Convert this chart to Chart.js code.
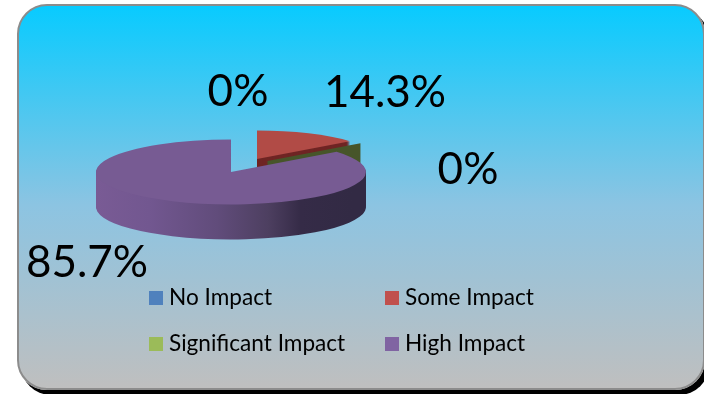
<!DOCTYPE html>
<html>
<head>
<meta charset="utf-8">
<script src="https://cdn.jsdelivr.net/npm/chart.js@4"></script>
<style>
  html, body { margin: 0; padding: 0; background: #fff; overflow: hidden; }
  .panel {
    position: absolute; left: 17px; top: 4px; width: 684px; height: 382px;
    border: 2px solid #8c8c8c; border-radius: 30px;
    background: linear-gradient(#08cbff 0%, #8cc4e2 52%, #bfbfbf 100%);
    box-shadow: 4px 5px 0 #000;
  }
  canvas { position: absolute; left: 0; top: 0; }
</style>
</head>
<body>
<div class="panel"></div>
<canvas id="chart" width="704" height="394"></canvas>
<script>
const categories = ['No Impact', 'Some Impact', 'Significant Impact', 'High Impact']
const shares = [0, 14.3, 0, 85.7]
const valueLabels = ['0%', '14.3%', '0%', '85.7%']
const legendColors = ['#4f81bd', '#c0504d', '#9bbb59', '#8064a2']
const topColors = ['#4f81bd', '#b14b46', '#9bbb59', '#775b93']
const wallColors = ['#2f4d71', '#6f2524', '#47552a', '#352c47']

// positions of the texts on the page
const labelSpots = [[238, 92], [385, 93], [468, 170], [87, 263]]
const legendSpots = [[149, 298], [385, 298], [149, 344], [385, 344]]

const squash = 0.24
const depth = 35
const pieY = 165.5
const explode = 30
const backScale = 0.88

const ctx = document.getElementById('chart').getContext('2d')

const sideGradient = () => {
  const g = ctx.createLinearGradient(95, 0, 365, 0)
  g.addColorStop(0, '#7b5c96')
  g.addColorStop(0.25, '#725790')
  g.addColorStop(0.5, '#614c7b')
  g.addColorStop(0.69, '#4d3f60')
  g.addColorStop(0.81, '#352b47')
  g.addColorStop(1, '#322a44')
  return g
}

// draws one slice flattened and pulled out of the pie, pushed down by dy
const drawSlice = (arc, color, dy, scale) => {
  const mid = (arc.startAngle + arc.endAngle) / 2
  const opts = arc.options
  ctx.save()
  ctx.translate(Math.cos(mid) * explode + arc.x, pieY + dy + Math.sin(mid) * explode * squash)
  ctx.scale(scale, squash * scale)
  ctx.translate(-arc.x, -arc.y)
  arc.options = Object.assign({}, opts, { backgroundColor: color })
  arc.draw(ctx)
  arc.options = opts
  ctx.restore()
}

// a 0% slice has no area, only its cut side shows
const drawEmptyWall = (arc, color, scale, height) => {
  const cos = Math.cos(arc.startAngle)
  const sin = Math.sin(arc.startAngle)
  const length = arc.outerRadius * scale
  const ax = arc.x + cos * explode
  const ay = pieY + sin * explode * squash
  const bx = ax + cos * length
  const by = ay + sin * length * squash
  ctx.fillStyle = color
  ctx.beginPath()
  ctx.moveTo(ax, ay)
  ctx.lineTo(bx, by)
  ctx.lineTo(bx, by + height)
  ctx.lineTo(ax, ay + height)
  ctx.closePath()
  ctx.fill()
}

const flatPie = {
  id: 'flatPie',
  beforeDatasetDraw(chart) {
    const arcs = chart.getDatasetMeta(0).data
    const wall = 22
    for (let d = wall; d > 0; d--) {
      drawSlice(arcs[1], wallColors[1], d, backScale)
    }
    drawSlice(arcs[1], topColors[1], 0, backScale)
    drawEmptyWall(arcs[2], wallColors[2], backScale, wall)
    drawEmptyWall(arcs[0], wallColors[0], backScale, wall)

    const side = sideGradient()
    for (let d = depth; d > 0; d--) {
      drawSlice(arcs[3], side, d, 1)
    }
    drawSlice(arcs[3], topColors[3], 0, 1)
    return false
  },
  afterDraw(chart) {
    ctx.save()
    ctx.fillStyle = '#000'
    ctx.textBaseline = 'middle'
    ctx.textAlign = 'center'
    ctx.font = '44px Lato'
    valueLabels.forEach((t, i) => ctx.fillText(t, labelSpots[i][0], labelSpots[i][1]))
    ctx.textAlign = 'left'
    ctx.font = '22.6px Lato'
    categories.forEach((t, i) => {
      const [x, y] = legendSpots[i]
      ctx.fillStyle = legendColors[i]
      ctx.fillRect(x, y - 7, 14, 14)
      ctx.fillStyle = '#000'
      ctx.fillText(t, x + 20, y)
    })
    ctx.restore()
  }
}

const myChart = new Chart(ctx, {
  type: 'pie',
  data: {
    labels: categories,
    datasets: [{
      data: shares,
      backgroundColor: topColors,
      borderWidth: 0,
      radius: 135
    }]
  },
  options: {
    responsive: false,
    animation: false,
    layout: { padding: { right: 216 } },
    plugins: { legend: { display: false }, tooltip: { enabled: false } }
  },
  plugins: [flatPie]
})
</script>
</body>
</html>
